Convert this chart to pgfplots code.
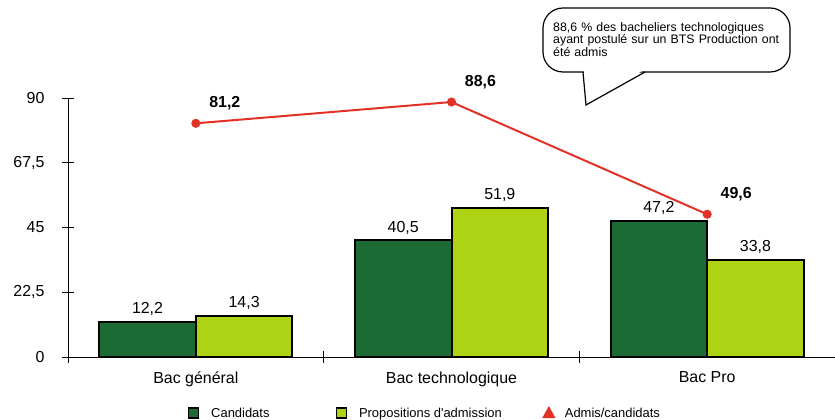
\documentclass[border=0pt]{standalone}
\usepackage{pgfplots}
\pgfplotsset{compat=1.18}
\usepackage{fontspec}
\setmainfont{Liberation Sans}
\definecolor{dgreen}{RGB}{28,107,53}
\definecolor{lgreen}{RGB}{174,210,20}
\definecolor{lred}{RGB}{226,50,40}
\begin{document}
\begin{tikzpicture}
\begin{axis}[
  at={(68bp,63bp)}, anchor=south west,
  width=767bp, height=259bp, scale only axis,
  xmin=-0.5, xmax=2.5, ymin=0, ymax=90,
  axis x line=bottom, axis y line=left,
  axis line style={-, line width=1bp, black},
  xtick={-0.5,0.5,1.5,2.5},
  x tick label as interval,
  xticklabels={Bac général, Bac technologique, Bac Pro},
  ytick={0,22.5,45,67.5,90},
  yticklabel style={/pgf/number format/use comma, xshift=-14bp},
  xticklabel style={yshift=-5bp},
  /pgf/number format/assume math mode=true,
  tick align=center, major tick length=12bp,
  tick style={black, line width=1bp},
  ticklabel style={font=\fontsize{16}{19}\selectfont},
  clip=false,
  legend style={at={(0.1558,-0.2162)}, anchor=west, draw=none, fill=none,
    legend columns=3, font=\fontsize{13}{15}\selectfont, inner sep=0pt,
    nodes={inner sep=0pt},
    /tikz/column 1/.style={column sep=12bp},
    /tikz/column 2/.style={column sep=66bp},
    /tikz/column 3/.style={column sep=12bp},
    /tikz/column 4/.style={column sep=41bp},
    /tikz/column 5/.style={column sep=10bp}},
]
\addplot[ybar, bar width=0.378, bar shift=-0.189, fill=dgreen, draw=black, line width=2bp,
  /pgf/number format/use comma,
  nodes near coords,
  every node near coord/.append style={font=\fontsize{16}{19}\selectfont, black, anchor=south, yshift=2bp, xshift=-48.3bp},
  legend image code/.code={\draw[black, fill=dgreen, line width=1.5bp] (0bp,-5bp) rectangle (10bp,5bp);}]
  coordinates {(0,12.2) (1,40.5) (2,47.2)};
\addlegendentry{Candidats}
\addplot[ybar, bar width=0.378, bar shift=0.189, fill=lgreen, draw=black, line width=2bp,
  /pgf/number format/use comma,
  nodes near coords,
  every node near coord/.append style={font=\fontsize{16}{19}\selectfont, black, anchor=south, yshift=2bp, xshift=48.3bp},
  legend image code/.code={\draw[black, fill=lgreen, line width=1.5bp] (0bp,-5bp) rectangle (10bp,5bp);}]
  coordinates {(0,14.3) (1,51.9) (2,33.8)};
\addlegendentry{Propositions d\textquotesingle admission}
\addplot[lred, line width=2bp, mark=*, mark size=3.5bp,
  /pgf/number format/use comma,
  nodes near coords,
  every node near coord/.append style={font=\bfseries\fontsize{16}{19}\selectfont, black, anchor=center, xshift=29bp, yshift=20bp},
  legend image code/.code={\fill[lred] (5bp,5bp) -- (0bp,-4bp) -- (10bp,-4bp) -- cycle;}]
  coordinates {(0,81.2) (1,88.6) (2,49.6)};
\addlegendentry{Admis/candidats}
\end{axis}
\draw[rounded corners=20bp, line width=1.2bp, fill=white] (543bp,348bp) rectangle (790bp,412bp);
\fill[white] (584bp,349.5bp) -- (586bp,316bp) -- (643bp,349.5bp) -- cycle;
\draw[line width=1.2bp] (583bp,348bp) -- (586bp,315bp) -- (645bp,348bp);
\node[anchor=north west, inner sep=0pt, text width=240bp, align=left,
  font=\fontsize{12.4}{11.5}\selectfont] at (553bp,398bp)
  {88,6~\% des bacheliers technologiques\\ayant postulé sur un BTS Production ont\\été admis};
\pgfresetboundingbox
\useasboundingbox (0,0) rectangle (835bp,420bp);
\end{tikzpicture}
\end{document}
